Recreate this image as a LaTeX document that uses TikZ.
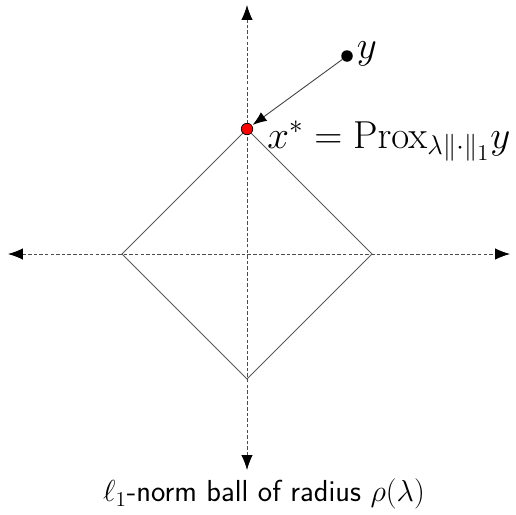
\documentclass[tikz,border=0pt]{standalone}
\usepackage{amsmath}
\usepackage{amssymb}
\usetikzlibrary{arrows.meta}

\tikzset{
  axis/.style={dash pattern=on 2pt off 1.2pt,line width=0.5pt,black!70,{Latex[length=8.5pt,width=6.5pt,black]}-{Latex[length=8.5pt,width=6.5pt,black]}},
  ball/.style={line width=0.5pt,black!65},
  proj/.style={line width=0.5pt,black!75,-{Latex[length=8pt,width=6pt,black]},shorten >=0.5pt},
  ptblack/.style={circle,fill=black,inner sep=0pt,minimum size=0.23cm},
  ptred/.style={circle,draw=black,fill=red,line width=0.4pt,inner sep=0pt,minimum size=0.23cm}
}

\begin{document}
\begin{tikzpicture}[x=0.02cm,y=-0.02cm]
  \useasboundingbox (0,0) rectangle (516,514);
  % axes
  \coordinate (W) at (8,254);
  \coordinate (E) at (510,254);
  \coordinate (N) at (247,5);
  \coordinate (S) at (247,470);
  \draw[axis] (W) -- (E);
  \draw[axis] (S) -- (N);
  % l1 ball
  \coordinate (L) at (122,254);
  \coordinate (R) at (372,254);
  \coordinate (T) at (247,129);
  \coordinate (B) at (247,379);
  \draw[ball] (L) -- (T) -- (R) -- (B) -- cycle;
  % projection
  \node[ptblack] (y) at (347,56) {};
  \node[ptred] (xs) at (T) {};
  \draw[proj] (y) -- (xs);
  \node[anchor=base west,inner sep=0pt] (ylab) at ([xshift=0.19cm,yshift=-0.05cm]y.center) {\huge\scalebox{1.07}{$y$}};
  \node[anchor=base west,inner sep=0pt] (xlab) at ([xshift=0.4cm,yshift=-0.38cm]xs.center) {\huge\scalebox{1.07}{$x^*=\mathrm{Prox}_{\lambda\|\cdot\|_1}y$}};
  \node (cap) at (264,494) {\sffamily\fontsize{17.3}{21}\selectfont $\ell_1$-norm ball of radius $\rho(\lambda)$};
\end{tikzpicture}
\end{document}
